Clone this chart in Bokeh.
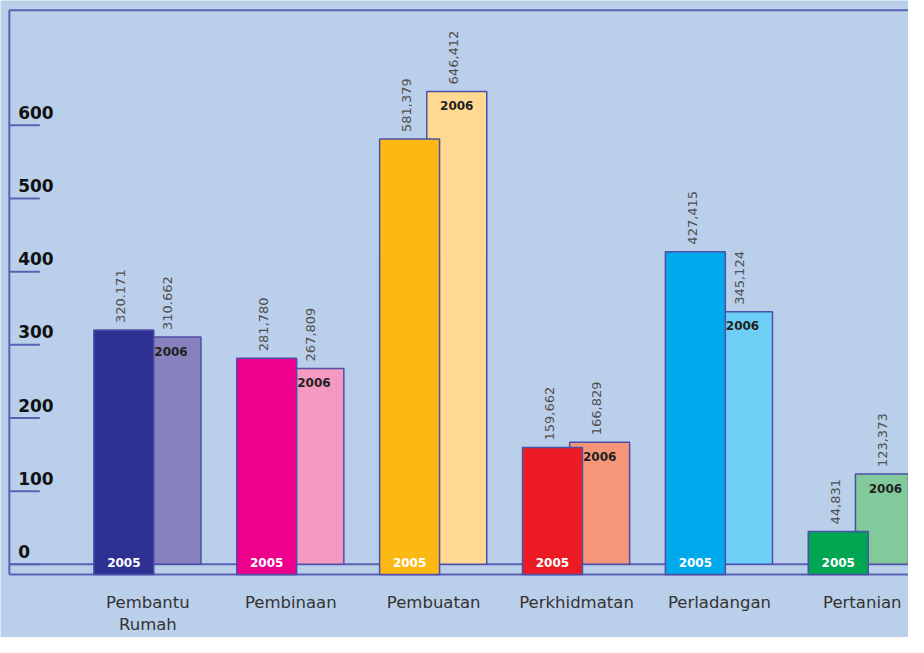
import numpy as np
from bokeh.plotting import figure
from bokeh.models import Range1d, ColumnDataSource
from bokeh.core.properties import value
from bokeh.embed import file_html
from bokeh.resources import INLINE

# ---- data ----
categories = ["Pembantu\nRumah", "Pembinaan", "Pembuatan", "Perkhidmatan", "Perladangan", "Pertanian"]
values_2005 = [320.171, 281.780, 581.379, 159.662, 427.415, 44.831]
values_2006 = [310.662, 267.809, 646.412, 166.829, 345.124, 123.373]
labels_2005 = ["320.171", "281,780", "581,379", "159,662", "427,415", "44,831"]
labels_2006 = ["310.662", "267,809", "646,412", "166,829", "345,124", "123,373"]
colors_2005 = ["#2e3192", "#ec008c", "#fdb913", "#ed1c24", "#00a8ec", "#00a651"]
colors_2006 = ["#8781bd", "#f49ac1", "#ffd992", "#f69679", "#6dcff6", "#82ca9c"]
y_ticks = [0, 100, 200, 300, 400, 500, 600]
year_labels = ["2005", "2006"]

# ---- layout constants (design space = 924 x 653 px) ----
W, H = 908, 637
DW, DH = 924, 653
XU = 145.4          # design px per category
X0 = 150.0          # design px of first category centre
YS = 0.75           # design px per unit
Y0 = 578.0          # design px of value 0
BASE05 = -14        # 2005 bars sit a little lower
BG = "#bacfea"
LINE = "#5c60b4"
FONT = "DejaVu Sans"


def px(xp):
    return (xp - X0) / XU


def py(yp):
    return (Y0 - yp) / YS


idx = list(range(len(categories)))
bar_w = 61 / XU
off05 = -24.5 / XU
off06 = 23.5 / XU

src05 = ColumnDataSource(dict(
    x=[i + off05 for i in idx], top=values_2005, color=colors_2005,
    lab=labels_2005, yl=[year_labels[0]] * len(idx)))
src06 = ColumnDataSource(dict(
    x=[i + off06 for i in idx], top=values_2006, color=colors_2006,
    lab=labels_2006, yl=[year_labels[1]] * len(idx)))

p = figure(width=W, height=H, output_backend="svg", toolbar_location=None,
           x_range=Range1d(px(0), px(DW)), y_range=Range1d(py(DH), py(0)),
           x_axis_type=None, y_axis_type=None, min_border=0,
           background_fill_color=BG, border_fill_color=BG, outline_line_color=None)
p.grid.visible = False

# frame lines
left_x = px(9)
right_x = px(DW)
top_y = py(10)
p.segment(x0=[left_x], y0=[BASE05], x1=[left_x], y1=[top_y], line_color=LINE, line_width=2)
p.segment(x0=[left_x], y0=[top_y], x1=[right_x], y1=[top_y], line_color=LINE, line_width=2)
p.segment(x0=[left_x, left_x], y0=[0, BASE05], x1=[right_x] * 2, y1=[0, BASE05],
          line_color=LINE, line_width=2)

# y ticks
p.segment(x0=[left_x] * len(y_ticks), y0=y_ticks, x1=[px(40)] * len(y_ticks), y1=y_ticks,
          line_color=LINE, line_width=2)
p.text(x=[px(18)] * len(y_ticks), y=y_ticks, text=[str(t) for t in y_ticks],
       text_font=value(FONT), text_font_style="bold", text_font_size="17px",
       text_color="#111111", text_align="left", text_baseline="alphabetic", y_offset=-13)

# bars (2006 behind 2005)
p.vbar(x="x", top="top", bottom=0, width=bar_w, source=src06,
       fill_color="color", line_color="#4d4fa8", line_width=1.5)
p.vbar(x="x", top="top", bottom=BASE05, width=bar_w, source=src05,
       fill_color="color", line_color="#4d4fa8", line_width=1.5)

# value labels (rotated)
for s in (src05, src06):
    p.text(x="x", y="top", text="lab", source=s, angle=np.pi / 2,
           text_font=value(FONT), text_font_size="13px", text_color="#505050",
           text_align="left", text_baseline="middle", x_offset=-3, y_offset=-7)

# year labels
p.text(x="x", y=0, text="yl", source=src05, text_font=value(FONT), text_font_style="bold",
       text_font_size="12px", text_color="white", text_align="center",
       text_baseline="middle", y_offset=-2)
p.text(x="x", y="top", text="yl", source=src06, text_font=value(FONT), text_font_style="bold",
       text_font_size="12px", text_color="#231f20", text_align="center",
       text_baseline="middle", y_offset=14)

# category labels
p.text(x=idx, y=[py(607)] * len(idx), text=categories, text_font=value(FONT),
       text_font_size="16.5px", text_color="#333333", text_align="center",
       text_baseline="top", text_line_height=1.2)

open("out.html", "w").write(file_html(p, INLINE))
